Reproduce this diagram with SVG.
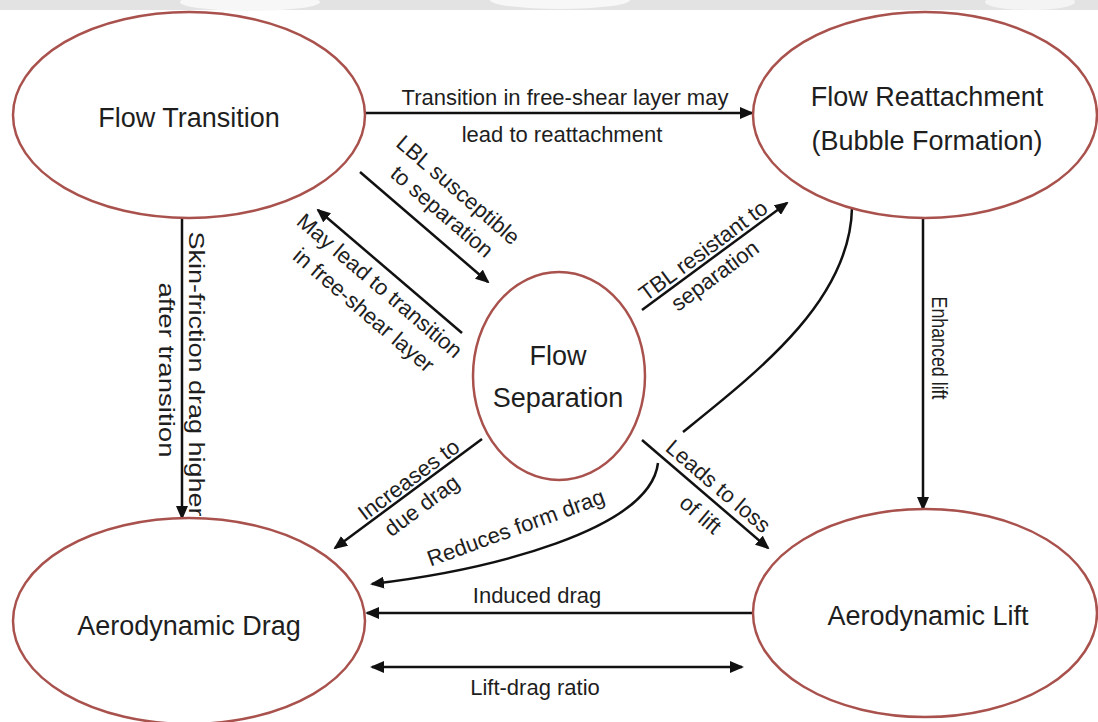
<svg xmlns="http://www.w3.org/2000/svg" width="1098" height="722" viewBox="0 0 1098 722">
<style>
.node{fill:#fff;stroke:#a9524d;stroke-width:2.5}
.nl{font-family:"Liberation Sans",Arial,sans-serif;font-size:27px;fill:#1e1e1e;text-anchor:middle}
.lbl{font-family:"Liberation Sans",Arial,sans-serif;font-size:22px;fill:#1e1e1e;text-anchor:middle}
.c{fill:none;stroke:#111;stroke-width:2.5}
.a{marker-end:url(#ah)}
.b{marker-start:url(#ah);marker-end:url(#ah)}
</style>
<defs>
<marker id="ah" viewBox="0 0 14 12" refX="12" refY="6" markerWidth="14" markerHeight="12" markerUnits="userSpaceOnUse" orient="auto-start-reverse"><path d="M0,0 L14,6 L0,12 z" fill="#111"/></marker>
</defs>
<rect width="1098" height="722" fill="#fff"/>
<g id="band">
<rect x="0" y="0" width="1098" height="10" fill="#e3e3e3"/>
<ellipse cx="250" cy="2" rx="70" ry="9" fill="#f7f7f7"/>
<ellipse cx="560" cy="0" rx="70" ry="9" fill="#f7f7f7"/>
<ellipse cx="1030" cy="2" rx="45" ry="8" fill="#f4f4f4"/>
</g>
<g id="connectors">
<path class="c a" d="M365,113 L752,113"/>
<path class="c a" d="M360,172 L488,282"/>
<path class="c a" d="M462,333 L318,210"/>
<path class="c a" d="M642,310 L787,203"/>
<path class="c a" d="M182,218 L182,518"/>
<path class="c a" d="M923,218 L923,509"/>
<path class="c a" d="M482,439 L335,548"/>
<path class="c a" d="M642,440 L768,548"/>
<path class="c" d="M852,208 C850,300 760,370 683,432"/>
<path class="c a" d="M658,463 C650,530 490,570 372,584"/>
<path class="c a" d="M753,613 L367,613"/>
<path class="c b" d="M372,667 L742,667"/>
<text class="lbl" x="565" y="105">Transition in free-shear layer may</text>
<text class="lbl" x="562" y="142">lead to reattachment</text>
<text class="lbl" transform="translate(453.2,195.5) rotate(40.7)">LBL susceptible</text>
<text class="lbl" transform="translate(437.1,217.3) rotate(40.7)">to separation</text>
<text class="lbl" transform="translate(374.8,291.3) rotate(40.5)">May lead to transition</text>
<text class="lbl" transform="translate(359,315.9) rotate(40.5)">in free-shear layer</text>
<text class="lbl" transform="translate(707.6,256.6) rotate(-36.4)">TBL resistant to</text>
<text class="lbl" transform="translate(719.3,281.6) rotate(-36.4)">separation</text>
<text class="lbl" transform="translate(413.2,485.6) rotate(-36.6)">Increases to</text>
<text class="lbl" transform="translate(426.2,511.5) rotate(-36.6)">due drag</text>
<text class="lbl" transform="translate(713.4,492) rotate(40.6)">Leads to loss</text>
<text class="lbl" transform="translate(695.7,520.2) rotate(40.6)">of lift</text>
<text class="lbl" transform="translate(518.4,534.6) rotate(-20)">Reduces form drag</text>
<text class="lbl" transform="translate(189,374) rotate(90)" textLength="285" lengthAdjust="spacingAndGlyphs">Skin-friction drag higher</text>
<text class="lbl" transform="translate(159,370) rotate(90)" textLength="175" lengthAdjust="spacingAndGlyphs">after transition</text>
<text class="lbl" transform="translate(932,348) rotate(90)" textLength="103" lengthAdjust="spacingAndGlyphs">Enhanced lift</text>
<text class="lbl" x="537" y="603">Induced drag</text>
<text class="lbl" x="535" y="695">Lift-drag ratio</text>
</g>
<g id="flow-transition">
<ellipse class="node" cx="189" cy="115" rx="176" ry="103"/>
<text class="nl" x="189" y="127">Flow Transition</text>
</g>
<g id="flow-reattachment">
<ellipse class="node" cx="925" cy="115" rx="172" ry="103"/>
<text class="nl" x="927" y="106">Flow Reattachment</text>
<text class="nl" x="927" y="150">(Bubble Formation)</text>
</g>
<g id="flow-separation">
<ellipse class="node" cx="559" cy="376" rx="86" ry="104"/>
<text class="nl" x="558" y="365">Flow</text>
<text class="nl" x="558" y="407">Separation</text>
</g>
<g id="aerodynamic-drag">
<ellipse class="node" cx="189" cy="621" rx="176" ry="103"/>
<text class="nl" x="189" y="635">Aerodynamic Drag</text>
</g>
<g id="aerodynamic-lift">
<ellipse class="node" cx="925" cy="613" rx="172" ry="104"/>
<text class="nl" x="928" y="625">Aerodynamic Lift</text>
</g>
</svg>
